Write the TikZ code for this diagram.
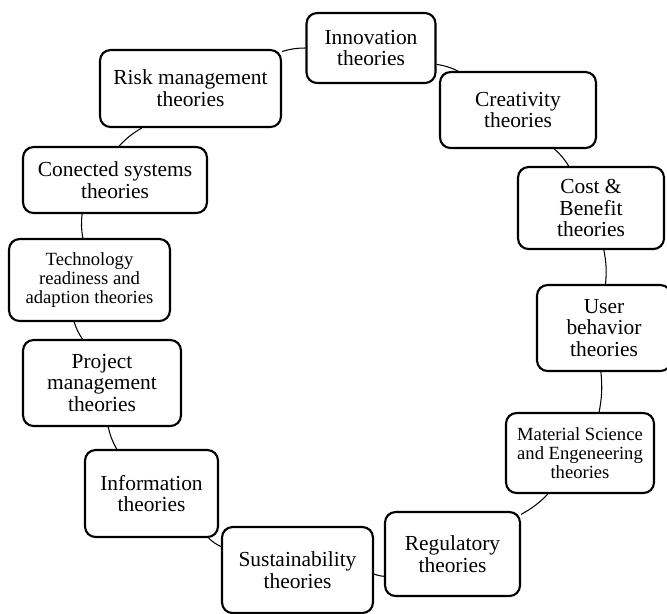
\documentclass[tikz,border=0pt]{standalone}
\usepackage{fontspec}
\setmainfont{Liberation Serif}

\begin{document}
\begin{tikzpicture}[x=0.02cm, y=-0.02cm]
        % styles
        \tikzstyle{theory} = [draw, rectangle, rounded corners=6pt, line width=1.2pt, align=center, inner sep=2pt, font=\fontsize{12.2}{12.4}\selectfont]
        \tikzstyle{smalltext} = [font=\fontsize{10.6}{11}\selectfont]
        \tikzstyle{link} = [line width=0.6pt]

        \useasboundingbox (0,0) rectangle (667,613);

        % theory boxes, clockwise from the top
        \node[theory, minimum width=2.58cm, minimum height=1.40cm] (inno) at (371,48) {Innovation\\theories};
        \node[theory, minimum width=3.12cm, minimum height=1.52cm] (crea) at (518,110) {Creativity\\theories};
        \node[theory, minimum width=2.92cm, minimum height=1.64cm] (cost) at (591,208) {Cost \&\\Benefit\\theories};
        \node[theory, minimum width=2.68cm, minimum height=1.72cm] (user) at (604,328) {User\\behavior\\theories};
        \node[theory, smalltext, minimum width=2.96cm, minimum height=1.60cm] (mat) at (580,453) {Material Science\\and Engeneering\\theories};
        \node[theory, minimum width=2.70cm, minimum height=1.68cm] (reg) at (452.5,554) {Regulatory\\theories};
        \node[theory, minimum width=3.02cm, minimum height=1.72cm] (sust) at (297.5,570) {Sustainability\\theories};
        \node[theory, minimum width=2.66cm, minimum height=1.74cm] (info) at (151.5,493.5) {Information\\theories};
        \node[theory, minimum width=3.16cm, minimum height=1.72cm] (proj) at (102,383) {Project\\management\\theories};
        \node[theory, smalltext, minimum width=3.22cm, minimum height=1.64cm] (tech) at (89.5,280) {Technology\\readiness and\\adaption theories};
        \node[theory, minimum width=3.68cm, minimum height=1.32cm] (conn) at (115,180) {Conected systems\\theories};
        \node[theory, minimum width=3.62cm, minimum height=1.54cm] (risk) at (190.5,88.5) {Risk management\\theories};

        % arcs between neighbours
        \draw[link] (inno.346) to[bend left=8] (crea.147);
        \draw[link] (crea.313) to[bend left=8] (cost.118);
        \draw[link] (cost.287) to[bend left=8] (user.88);
        \draw[link] (user.266) to[bend left=8] (mat.65);
        \draw[link] (mat.232) to[bend left=8] (reg.30);
        \draw[link] (reg.198) to[bend left=8] (sust.357);
        \draw[link] (sust.163) to[bend left=8] (info.322);
        \draw[link] (info.128) to[bend left=8] (proj.278);
        \draw[link] (proj.114) to[bend left=8] (tech.250);
        \draw[link] (tech.99) to[bend left=8] (conn.226);
        \draw[link] (conn.83) to[bend left=8] (risk.219);
        \draw[link] (risk.22) to[bend left=8] (inno.west);
\end{tikzpicture}
\end{document}
